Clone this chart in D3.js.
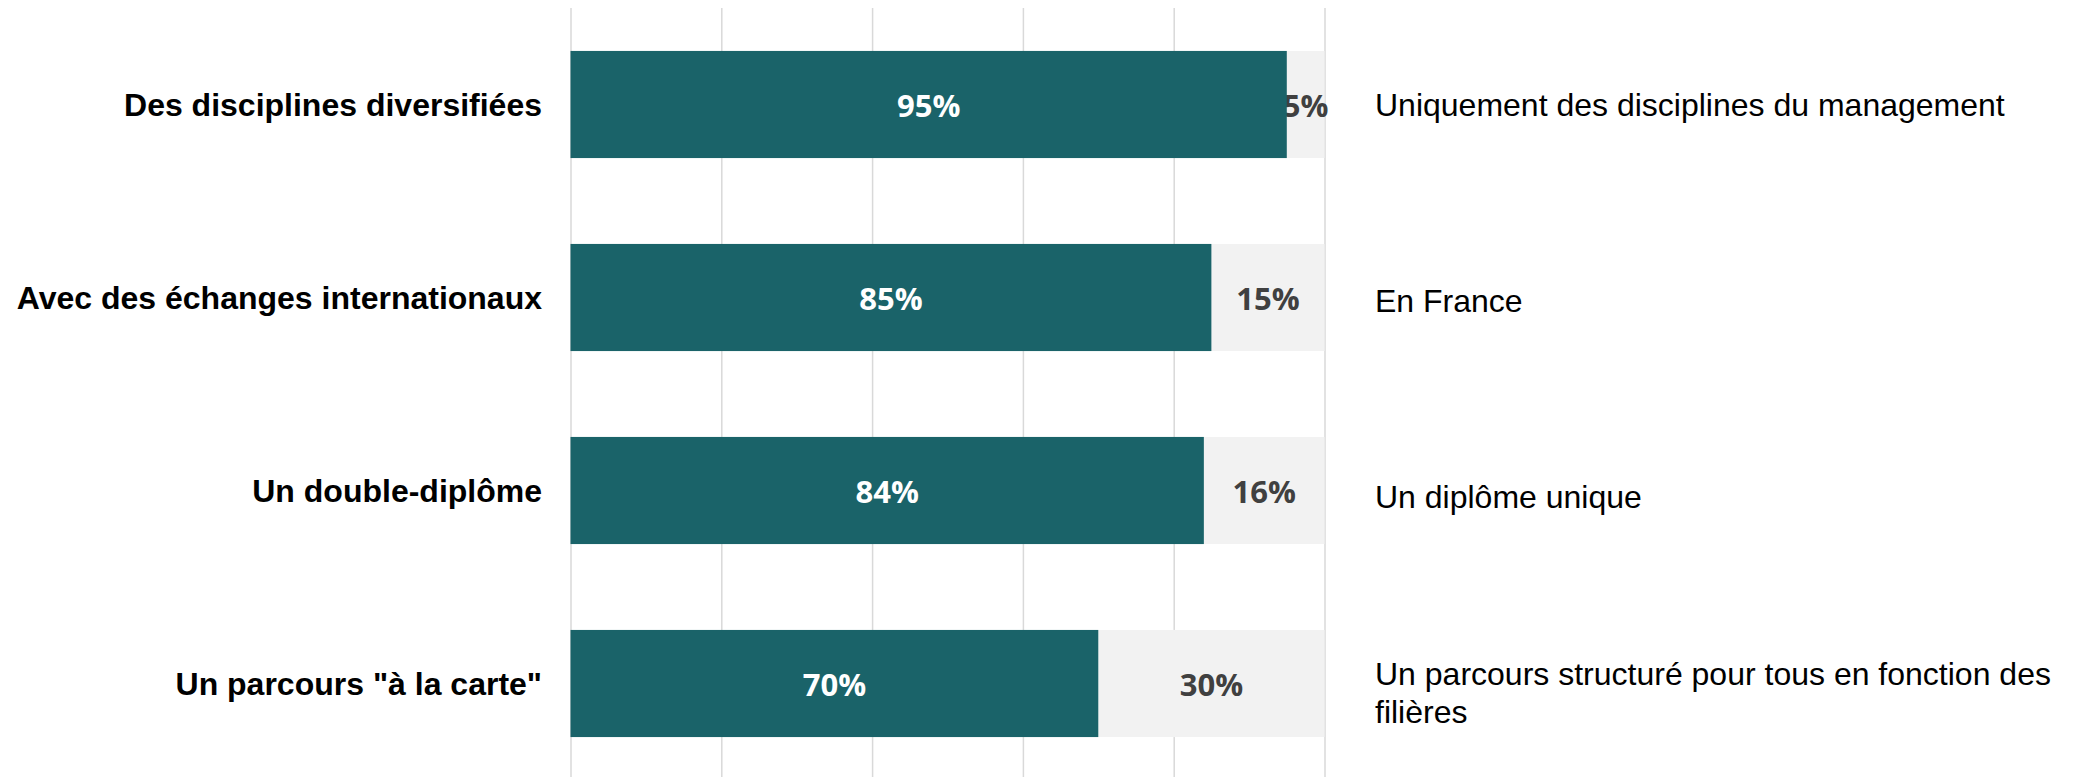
<!DOCTYPE html>
<html>
<head>
<meta charset="utf-8">
<script src="https://cdn.jsdelivr.net/npm/d3@7"></script>
<style>
  html, body { margin: 0; padding: 0; background: #ffffff; }
  svg { display: block; }
</style>
</head>
<body>
<svg id="chart" width="2075" height="777"></svg>
<script>
const categories = [
  "Des disciplines diversifiées",
  "Avec des échanges internationaux",
  "Un double-diplôme",
  "Un parcours \"à la carte\""
];
const alternatives = [
  "Uniquement des disciplines du management",
  "En France",
  "Un diplôme unique",
  "Un parcours structuré pour tous en fonction des filières"
];
const primaryValues = [95, 85, 84, 70];
const secondaryValues = [5, 15, 16, 30];
const tickValues = [0, 20, 40, 60, 80, 100];

const W = 2075, H = 777;
const plotLeft = 570.5, plotRight = 1324.5, plotTop = 8, plotBottom = 780;
const teal = "#1a6369", lightGray = "#f2f2f2", gridColor = "#d9d9d9";

const svg = d3.select("#chart");

const x = d3.scaleLinear().domain([0, 100]).range([plotLeft, plotRight]);
const y = d3.scaleBand().domain(categories).range([plotTop, plotBottom])
  .paddingInner(0.445).paddingOuter(0.2225);
// anchor scale for the right-hand text boxes
const yRight = d3.scalePoint().domain(categories).range([105, 693]);

const rows = categories.map((c, i) => ({
  cat: c, alt: alternatives[i], a: primaryValues[i], b: secondaryValues[i]
}));

// gridlines
const grid = svg.append("g")
  .attr("transform", `translate(0,${plotTop})`)
  .call(d3.axisTop(x).tickValues(tickValues).tickSize(-(H - plotTop)).tickFormat(""));
grid.select(".domain").remove();
grid.selectAll(".tick line").attr("stroke", gridColor).attr("stroke-width", 1.5);

// secondary (gray) segments
svg.append("g").selectAll("rect").data(rows).join("rect")
  .attr("x", d => x(d.a))
  .attr("y", d => y(d.cat))
  .attr("width", d => x(d.a + d.b) - x(d.a))
  .attr("height", y.bandwidth())
  .attr("fill", lightGray);

svg.append("g").selectAll("text").data(rows).join("text")
  .attr("x", d => (x(d.a) + x(d.a + d.b)) / 2)
  .attr("y", d => y(d.cat) + y.bandwidth() / 2)
  .attr("text-anchor", "middle")
  .attr("dominant-baseline", "central")
  .attr("font-family", "'Open Sans', sans-serif")
  .attr("font-weight", 700)
  .attr("font-size", 31)
  .attr("fill", "#404040")
  .text(d => d.b + "%");

// primary (teal) bars
svg.append("g").selectAll("rect").data(rows).join("rect")
  .attr("x", x(0))
  .attr("y", d => y(d.cat))
  .attr("width", d => x(d.a) - x(0))
  .attr("height", y.bandwidth())
  .attr("fill", teal);

svg.append("g").selectAll("text").data(rows).join("text")
  .attr("x", d => (x(0) + x(d.a)) / 2)
  .attr("y", d => y(d.cat) + y.bandwidth() / 2)
  .attr("text-anchor", "middle")
  .attr("dominant-baseline", "central")
  .attr("font-family", "'Open Sans', sans-serif")
  .attr("font-weight", 700)
  .attr("font-size", 31)
  .attr("fill", "#ffffff")
  .text(d => d.a + "%");

// left category labels
svg.append("g").selectAll("text").data(rows).join("text")
  .attr("x", 542)
  .attr("y", d => y(d.cat) + y.bandwidth() / 2)
  .attr("text-anchor", "end")
  .attr("dominant-baseline", "central")
  .attr("font-family", "'Liberation Sans', Arial, sans-serif")
  .attr("font-weight", 700)
  .attr("font-size", 32)
  .attr("fill", "#000000")
  .text(d => d.cat);

// right alternative labels (wrapped)
const rightX = 1375, maxW = 690, lineH = 38;
const rightG = svg.append("g");
rows.forEach(d => {
  const t = rightG.append("text")
    .attr("x", rightX)
    .attr("font-family", "'Liberation Sans', Arial, sans-serif")
    .attr("font-size", 32)
    .attr("fill", "#000000")
    .attr("dominant-baseline", "central");
  const words = d.alt.split(" ");
  const lines = [];
  let cur = [];
  const probe = t.append("tspan");
  words.forEach(w => {
    const test = cur.concat([w]).join(" ");
    probe.text(test);
    if (probe.node().getComputedTextLength() > maxW && cur.length) {
      lines.push(cur.join(" "));
      cur = [w];
    } else {
      cur.push(w);
    }
  });
  if (cur.length) lines.push(cur.join(" "));
  probe.remove();
  const cy = yRight(d.cat);
  const startY = cy - (lines.length - 1) * lineH / 2;
  lines.forEach((ln, i) => {
    t.append("tspan").attr("x", rightX).attr("y", startY + i * lineH).text(ln);
  });
});
</script>
</body>
</html>
